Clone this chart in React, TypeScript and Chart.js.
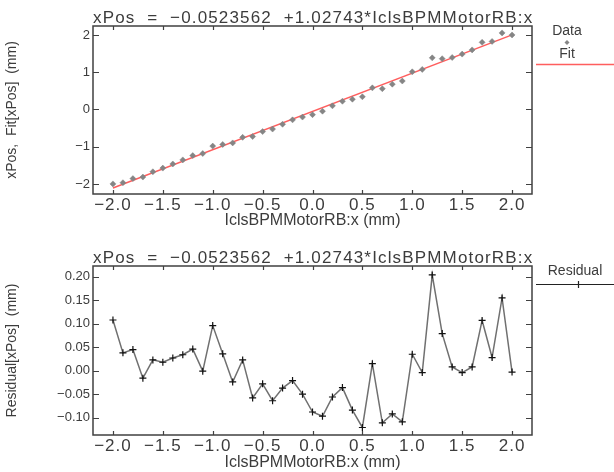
import React, { useEffect, useRef } from "react";
import { Chart, registerables } from "chart.js";

Chart.register(...registerables);

// ---------- data ----------
const xValues = [
  -2.0, -1.9, -1.8, -1.7, -1.6, -1.5, -1.4, -1.3, -1.2, -1.1, -1.0, -0.9, -0.8, -0.7,
  -0.6, -0.5, -0.4, -0.3, -0.2, -0.1, 0.0, 0.1, 0.2, 0.3, 0.4, 0.5, 0.6, 0.7, 0.8, 0.9,
  1.0, 1.1, 1.2, 1.3, 1.4, 1.5, 1.6, 1.7, 1.8, 1.9, 2.0,
];
const dataValues = [
  -1.999, -1.967, -1.857, -1.815, -1.673, -1.575, -1.464, -1.354, -1.239, -1.184,
  -0.984, -0.941, -0.898, -0.749, -0.727, -0.594, -0.527, -0.398, -0.279, -0.205,
  -0.14, -0.047, 0.097, 0.22, 0.275, 0.34, 0.579, 0.556, 0.678, 0.763,
  1.01, 1.074, 1.385, 1.362, 1.394, 1.485, 1.599, 1.801, 1.825, 2.055, 2.0,
];
const fitX = [-2.0, 2.0];
const fitValues = [-2.107, 2.002];
const residualValues = [
  0.108, 0.038, 0.045, -0.016, 0.023, 0.018, 0.027, 0.034, 0.046, -0.001,
  0.096, 0.036, -0.024, 0.023, -0.058, -0.028, -0.064, -0.037, -0.021, -0.05,
  -0.088, -0.097, -0.056, -0.036, -0.084, -0.121, 0.015, -0.111, -0.092, -0.109,
  0.035, -0.004, 0.204, 0.079, 0.008, -0.004, 0.008, 0.107, 0.028, 0.155, -0.003,
];
const xTicks = [-2.0, -1.5, -1.0, -0.5, 0.0, 0.5, 1.0, 1.5, 2.0];
const topYTicks = [-2, -1, 0, 1, 2];
const bottomYTicks = [-0.1, -0.05, 0.0, 0.05, 0.1, 0.15, 0.2];

const titleText = "xPos  =  \u22120.0523562  +1.02743*IclsBPMMotorRB:x";
const xAxisTitle = "IclsBPMMotorRB:x (mm)";
const topYTitle = "xPos,  Fit[xPos]  (mm)";
const bottomYTitle = "Residual[xPos]  (mm)";

const FONT = "'Liberation Sans', Arial, sans-serif";
const TEXT = "#3c3c3c";
const AXIS = "#404040";
const DATA_COLOR = "#858585";
const FIT_COLOR = "#ff5e5e";
const RESID_LINE = "#707070";

const minus = (s: string) => s.replace("-", "\u2212");

Chart.defaults.font.family = FONT;
Chart.defaults.color = TEXT;

// ---------- plugins ----------
const framePlugin = {
  id: "frame",
  afterDatasetsDraw(chart: any) {
    const { ctx, chartArea: a, scales } = chart;
    ctx.save();
    ctx.strokeStyle = AXIS;
    ctx.lineWidth = 1.5;
    ctx.strokeRect(a.left, a.top, a.right - a.left, a.bottom - a.top);
    ctx.lineWidth = 1.2;
    ctx.beginPath();
    for (const t of scales.x.ticks) {
      const px = Math.round(scales.x.getPixelForValue(t.value)) + 0.5;
      ctx.moveTo(px, a.bottom);
      ctx.lineTo(px, a.bottom - 4);
      ctx.moveTo(px, a.top);
      ctx.lineTo(px, a.top + 4);
    }
    for (const t of scales.y.ticks) {
      const py = Math.round(scales.y.getPixelForValue(t.value)) + 0.5;
      ctx.moveTo(a.left, py);
      ctx.lineTo(a.left + 6, py);
      ctx.moveTo(a.right, py);
      ctx.lineTo(a.right - 6, py);
    }
    ctx.stroke();
    ctx.restore();
  },
};

const titlePlugin = {
  id: "fitTitle",
  afterDraw(chart: any, _args: any, opts: any) {
    const { ctx, chartArea: a } = chart;
    ctx.save();
    ctx.font = `17px ${FONT}`;
    ctx.fillStyle = TEXT;
    ctx.textBaseline = "alphabetic";
    ctx.textAlign = "left";
    const w = ctx.measureText(titleText).width;
    const n = [...titleText].length;
    const target = a.right - a.left;
    const sp = Math.max(0, (target - w) / (n - 1));
    (ctx as any).letterSpacing = `${sp.toFixed(2)}px`;
    ctx.fillText(titleText, a.left, opts.baseline);
    ctx.restore();
  },
};

const topLegendPlugin = {
  id: "topLegend",
  afterDraw(chart: any) {
    const { ctx } = chart;
    ctx.save();
    ctx.font = `14px ${FONT}`;
    ctx.fillStyle = TEXT;
    ctx.textAlign = "center";
    ctx.textBaseline = "middle";
    const ds = chart.data.datasets;
    ctx.fillText(ds[0].label, 567, 31);
    ctx.fillStyle = DATA_COLOR;
    ctx.beginPath();
    ctx.moveTo(567, 40);
    ctx.lineTo(569.5, 42.5);
    ctx.lineTo(567, 45);
    ctx.lineTo(564.5, 42.5);
    ctx.closePath();
    ctx.fill();
    ctx.fillStyle = TEXT;
    ctx.fillText(ds[1].label, 567, 54);
    ctx.strokeStyle = FIT_COLOR;
    ctx.lineWidth = 1.5;
    ctx.beginPath();
    ctx.moveTo(536, 64.5);
    ctx.lineTo(614, 64.5);
    ctx.stroke();
    ctx.restore();
  },
};

const bottomLegendPlugin = {
  id: "bottomLegend",
  afterDraw(chart: any) {
    const { ctx } = chart;
    ctx.save();
    ctx.font = `14px ${FONT}`;
    ctx.fillStyle = TEXT;
    ctx.textAlign = "center";
    ctx.textBaseline = "middle";
    ctx.fillText(chart.data.datasets[0].label, 575, 35);
    ctx.strokeStyle = "#222";
    ctx.lineWidth = 1.2;
    ctx.beginPath();
    ctx.moveTo(536, 48.5);
    ctx.lineTo(614, 48.5);
    ctx.moveTo(578.5, 45);
    ctx.lineTo(578.5, 52);
    ctx.stroke();
    ctx.restore();
  },
};

function patchLabelSpacing(s: any, spacing: string) {
  if (s.__spaced) return;
  s.__spaced = true;
  const orig = s.drawLabels;
  s.drawLabels = function (area: any) {
    const ctx = this.ctx;
    ctx.save();
    (ctx as any).letterSpacing = spacing;
    orig.call(this, area);
    ctx.restore();
  };
}

function xScale(titlePadBottom: number, height: number) {
  return {
    type: "linear",
    min: -2.2,
    max: 2.2,
    afterBuildTicks: (s: any) => {
      s.ticks = xTicks.map((v) => ({ value: v }));
      patchLabelSpacing(s, "1px");
    },
    afterFit: (s: any) => {
      s.height = height;
    },
    grid: { display: false, drawTicks: false },
    border: { display: false },
    ticks: {
      padding: 1,
      font: { size: 17 },
      color: TEXT,
      maxRotation: 0,
      autoSkip: false,
      callback: (v: any) => minus(Number(v).toFixed(1)),
    },
    title: {
      display: true,
      text: xAxisTitle,
      font: { size: 16 },
      color: TEXT,
      padding: { top: 0, bottom: titlePadBottom },
    },
  };
}

function yScale(min: number, max: number, ticks: number[], digits: number, title: string) {
  return {
    type: "linear",
    min,
    max,
    afterBuildTicks: (s: any) => {
      s.ticks = ticks.map((v) => ({ value: v }));
    },
    afterFit: (s: any) => {
      s.width = 93;
    },
    grid: { display: false, drawTicks: false },
    border: { display: false },
    ticks: {
      padding: 3,
      font: { size: 13 },
      color: TEXT,
      autoSkip: false,
      callback: (v: any) => minus(Number(v).toFixed(digits)),
    },
    title: {
      display: true,
      text: title,
      font: { size: 14 },
      color: TEXT,
      padding: { top: 4, bottom: 0 },
    },
  };
}

export default function App() {
  const topRef = useRef<HTMLCanvasElement>(null);
  const botRef = useRef<HTMLCanvasElement>(null);

  useEffect(() => {
    const top = new Chart(topRef.current as HTMLCanvasElement, {
      type: "scatter",
      data: {
        datasets: [
          {
            label: "Data",
            data: xValues.map((x, i) => ({ x, y: dataValues[i] })),
            showLine: false,
            pointStyle: "rectRot",
            pointRadius: 3,
            backgroundColor: DATA_COLOR,
            borderColor: DATA_COLOR,
            borderWidth: 0.5,
          },
          {
            label: "Fit",
            data: fitX.map((x, i) => ({ x, y: fitValues[i] })),
            showLine: true,
            borderColor: FIT_COLOR,
            borderWidth: 1.5,
            pointRadius: 0,
          },
        ],
      },
      options: {
        responsive: false,
        animation: false,
        layout: { padding: { top: 26, right: 82, bottom: 0, left: 0 } },
        plugins: {
          legend: { display: false },
          tooltip: { enabled: false },
          fitTitle: { baseline: 23 },
        } as any,
        scales: {
          x: xScale(6, 42),
          y: yScale(-2.27, 2.24, topYTicks, 0, topYTitle),
        } as any,
      },
      plugins: [framePlugin, titlePlugin, topLegendPlugin],
    } as any);

    const bottom = new Chart(botRef.current as HTMLCanvasElement, {
      type: "scatter",
      data: {
        datasets: [
          {
            label: "Residual",
            data: xValues.map((x, i) => ({ x, y: residualValues[i] })),
            showLine: true,
            borderColor: RESID_LINE,
            borderWidth: 1.5,
            pointStyle: "cross",
            pointRadius: 3.5,
            pointBorderColor: "#111",
            pointBorderWidth: 1.2,
            backgroundColor: "#111",
          },
        ],
      },
      options: {
        responsive: false,
        animation: false,
        layout: { padding: { top: 30, right: 82, bottom: 0, left: 0 } },
        plugins: {
          legend: { display: false },
          tooltip: { enabled: false },
          fitTitle: { baseline: 27 },
        } as any,
        scales: {
          x: xScale(0, 37),
          y: yScale(-0.137, 0.223, bottomYTicks, 2, bottomYTitle),
        } as any,
      },
      plugins: [framePlugin, titlePlugin, bottomLegendPlugin],
    } as any);

    return () => {
      top.destroy();
      bottom.destroy();
    };
  }, []);

  return (
    <div
      style={{
        position: "absolute",
        left: 0,
        top: 0,
        width: 614,
        height: 472,
        background: "#fff",
      }}
    >
      <canvas ref={topRef} width={614} height={236} style={{ display: "block" }} />
      <canvas ref={botRef} width={614} height={236} style={{ display: "block" }} />
    </div>
  );
}
